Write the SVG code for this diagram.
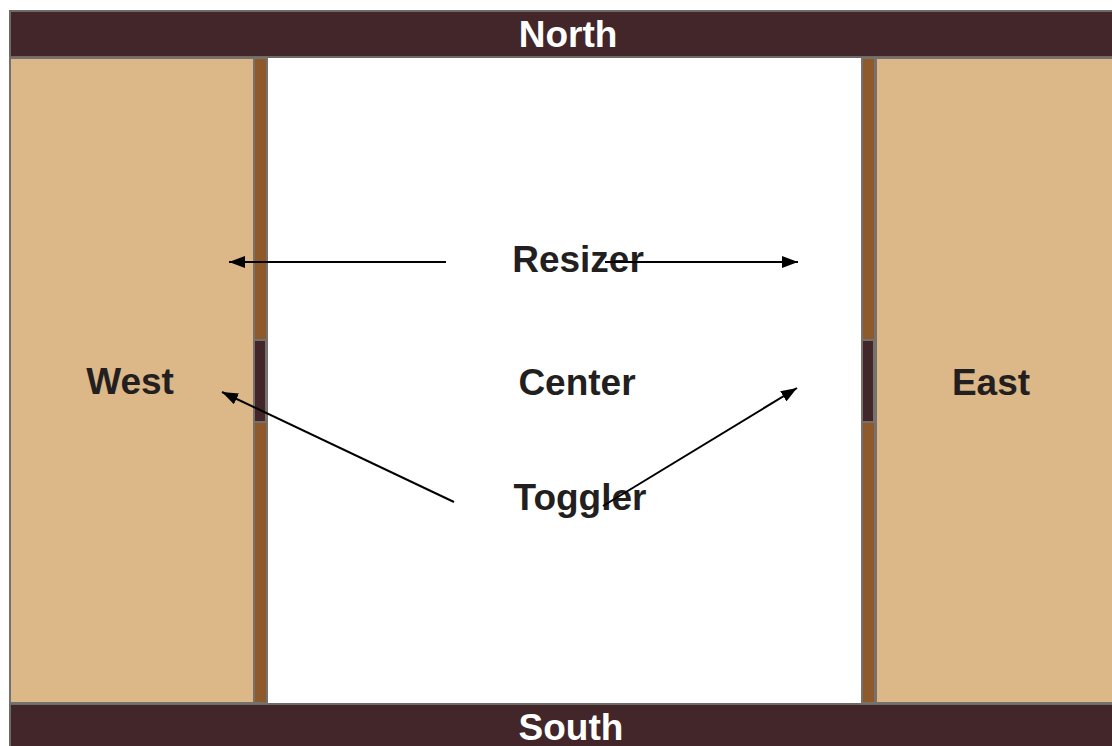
<svg xmlns="http://www.w3.org/2000/svg" width="1112" height="746" viewBox="0 0 1112 746">
<defs>
<style>
.bar{fill:#42262a;stroke:#6e6a66;stroke-width:2}
.panel{fill:#dcb787;stroke:#76716c;stroke-width:2}
.res{fill:#8f5a2b;stroke:#76716c;stroke-width:2}
.tog{fill:#42262a;stroke:#76716c;stroke-width:2}
.lbl{font-family:"Liberation Sans",Arial,sans-serif;font-weight:bold;font-size:37px;fill:#231f20;text-anchor:middle}
.wl{fill:#ffffff}
.con{stroke:#000;stroke-width:2;fill:none;marker-end:url(#ah)}
</style>
<marker id="ah" viewBox="0 0 16 12" refX="16" refY="6" markerWidth="16" markerHeight="12" markerUnits="userSpaceOnUse" orient="auto">
<path d="M0,0 L16,6 L0,12 z" fill="#000"/>
</marker>
</defs>
<rect width="1112" height="746" fill="#ffffff"/>
<g id="north"><rect class="bar" x="10" y="11" width="1104" height="46"/><text class="lbl wl" x="568" y="47">North</text></g>
<g id="south"><rect class="bar" x="10" y="704" width="1104" height="46"/><text class="lbl wl" x="571" y="740">South</text></g>
<g id="west"><rect class="panel" x="10" y="58" width="244" height="645"/><text class="lbl" x="130" y="394">West</text></g>
<g id="east"><rect class="panel" x="876" y="58" width="238" height="645"/><text class="lbl" x="991" y="395">East</text></g>
<g id="west-resizer"><rect class="res" x="254" y="58" width="13" height="645"/></g>
<g id="east-resizer"><rect class="res" x="862" y="58" width="13" height="645"/></g>
<g id="west-toggler"><rect class="tog" x="254" y="340" width="12" height="82"/></g>
<g id="east-toggler"><rect class="tog" x="862" y="340" width="12" height="82"/></g>
<g id="center"><text class="lbl" x="577" y="395">Center</text></g>
<g id="resizer-label"><text class="lbl" x="578" y="272">Resizer</text></g>
<g id="toggler-label"><text class="lbl" x="580" y="510">Toggler</text></g>
<g id="connectors">
<line class="con" x1="446" y1="262" x2="229" y2="262"/>
<line class="con" x1="605" y1="262" x2="798" y2="262"/>
<line class="con" x1="454" y1="502" x2="222" y2="392"/>
<line class="con" x1="603" y1="506" x2="797" y2="388"/>
</g>
</svg>
